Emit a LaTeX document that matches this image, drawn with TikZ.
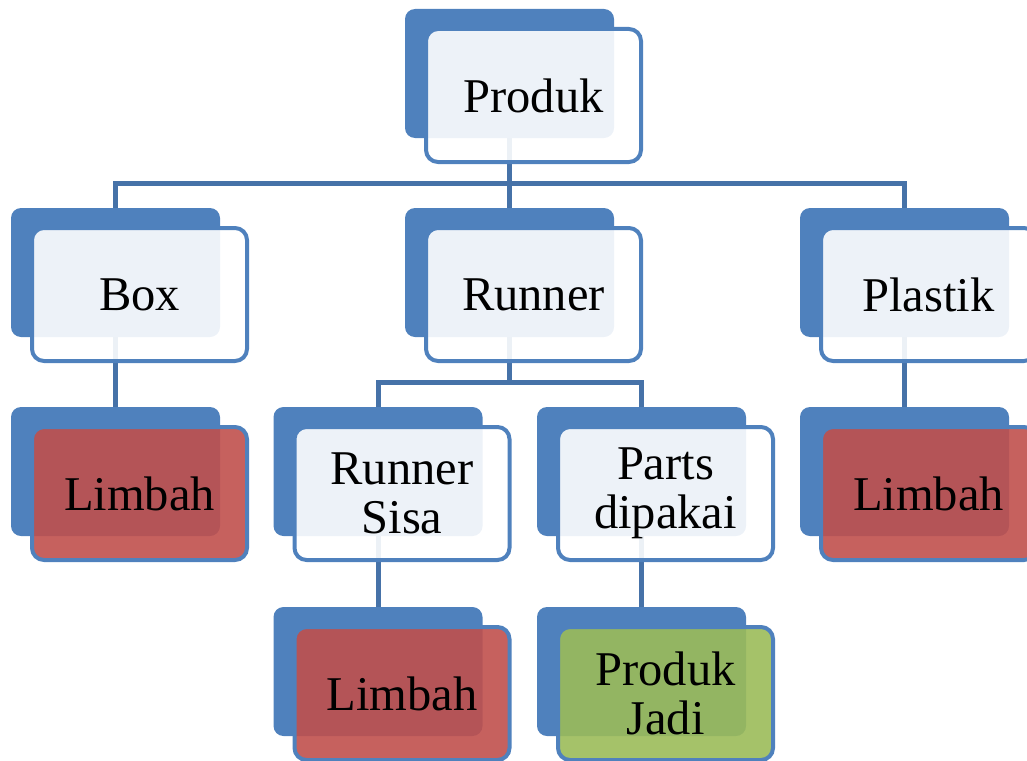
\documentclass[tikz,border=0pt]{standalone}
\usepackage{fontspec}
\setmainfont{Liberation Serif}
\definecolor{boxblue}{RGB}{79,129,189}
\definecolor{lineblue}{RGB}{70,114,168}
\definecolor{wastered}{RGB}{192,80,77}
\definecolor{okgreen}{RGB}{155,187,89}
\tikzset{
  back/.style={fill=boxblue, rounded corners=10pt, minimum width=209pt,
    minimum height=129pt, inner sep=0pt},
  front/.style={draw=boxblue, line width=4pt, fill=white, fill opacity=0.9,
    text opacity=1, rounded corners=12pt, minimum width=215pt,
    minimum height=133pt, inner sep=0pt, align=center,
    font=\fontsize{48.5}{49}\selectfont},
  waste/.style={front, fill=wastered},
  done/.style={front, fill=okgreen},
  conn/.style={draw=lineblue, line width=5pt}
}
\begin{document}
\begin{tikzpicture}[x=1pt, y=-1pt]
  \useasboundingbox (0,0) rectangle (1027,760);

  % Back plates
  \node[back] (produkB) at (509.5,73.5) {};
  \node[back] (boxB) at (115.5,272.5) {};
  \node[back] (runnerB) at (509.5,272.5) {};
  \node[back] (plastikB) at (904.5,272.5) {};
  \node[back] (limbahAB) at (115.5,471.5) {};
  \node[back] (sisaB) at (378,471.5) {};
  \node[back] (partsB) at (641.5,471.5) {};
  \node[back] (limbahCB) at (904.5,471.5) {};
  \node[back] (limbahBB) at (378,671.5) {};
  \node[back] (jadiB) at (641.5,671.5) {};

  % Connectors
  \draw[conn] (produkB.south) |- ([yshift=24pt]boxB.north) -- (boxB.north);
  \draw[conn] (produkB.south) -- (runnerB.north);
  \draw[conn] (produkB.south) |- ([yshift=24pt]plastikB.north) -- (plastikB.north);
  \draw[conn] (boxB.south) -- (limbahAB.north);
  \draw[conn] (runnerB.south) |- ([yshift=24pt]sisaB.north) -- (sisaB.north);
  \draw[conn] (runnerB.south) |- ([yshift=24pt]partsB.north) -- (partsB.north);
  \draw[conn] (plastikB.south) -- (limbahCB.north);
  \draw[conn] (sisaB.south) -- (limbahBB.north);
  \draw[conn] (partsB.south) -- (jadiB.north);

  % Front boxes
  \node[front] (produk) at ([shift={(24,22)}]produkB.center) {Produk};
  \node[front] (box) at ([shift={(24,22)}]boxB.center) {Box};
  \node[front] (runner) at ([shift={(24,22)}]runnerB.center) {Runner};
  \node[front] (plastik) at ([shift={(24,22)}]plastikB.center) {Plastik};
  \node[waste] (limbahA) at ([shift={(24,22)}]limbahAB.center) {Limbah};
  \node[front] (sisa) at ([shift={(24,22)}]sisaB.center) {Runner\\Sisa};
  \node[front] (parts) at ([shift={(24,22)}]partsB.center) {Parts\\dipakai};
  \node[waste] (limbahC) at ([shift={(24,22)}]limbahCB.center) {Limbah};
  \node[waste] (limbahB) at ([shift={(24,22)}]limbahBB.center) {Limbah};
  \node[done] (jadi) at ([shift={(24,22)}]jadiB.center) {Produk\\Jadi};
\end{tikzpicture}
\end{document}
